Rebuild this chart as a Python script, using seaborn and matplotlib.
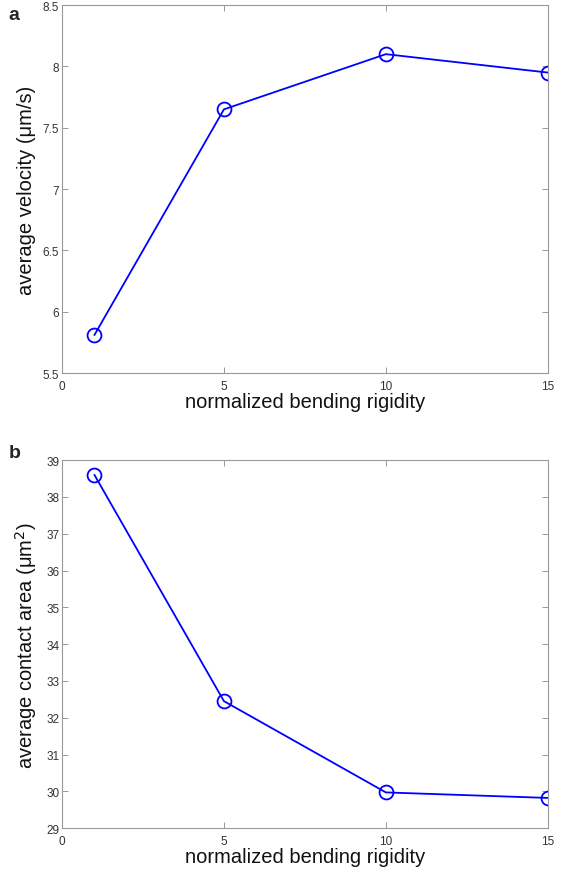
import matplotlib
matplotlib.use("Agg")
import matplotlib.pyplot as plt
import seaborn as sns

sns.set_style("white")
plt.rcParams['font.family'] = ['Liberation Sans', 'DejaVu Sans']

rigidity = [1, 5, 10, 15]
velocity = [5.81, 7.65, 8.10, 7.95]
contact_area = [38.6, 32.45, 29.97, 29.82]

fig = plt.figure(figsize=(5.61, 8.70), dpi=100)
ax_a = fig.add_axes([0.1105, 0.570, 0.866, 0.423])
ax_b = fig.add_axes([0.1105, 0.047, 0.866, 0.423])

panels = [
    (ax_a, velocity, 'average velocity (\u03bcm/s)', (5.5, 8.5), [5.5, 6, 6.5, 7, 7.5, 8, 8.5],
     ['5.5', '6', '6.5', '7', '7.5', '8', '8.5'], 'a', 0.975),
    (ax_b, contact_area, 'average contact area (\u03bcm$^2$)', (29, 39), list(range(29, 40)),
     [str(v) for v in range(29, 40)], 'b', 1.022),
]

for ax, vals, ylabel, ylim, yticks, yticklabels, letter, ly in panels:
    sns.lineplot(x=rigidity, y=vals, ax=ax, color='#0000ff', lw=1.3,
                 marker='o', markersize=10, markerfacecolor='none',
                 markeredgecolor='#0000ff', markeredgewidth=1.3)
    ax.set_xlim(0, 15)
    ax.set_ylim(*ylim)
    ax.set_xticks([0, 5, 10, 15])
    ax.set_xticklabels(['0', '5', '10', '15'])
    ax.set_yticks(yticks)
    ax.set_yticklabels(yticklabels)
    ax.tick_params(direction='in', length=4, width=0.6, color='#888888',
                   labelsize=8.5, labelcolor='#333333', top=True, right=True,
                   left=True, bottom=True, pad=2)
    ax.tick_params(axis='x', pad=5)
    for s in ax.spines.values():
        s.set_color('#999999')
        s.set_linewidth(0.8)
    ax.set_xlabel('normalized bending rigidity', fontsize=14.5, labelpad=0, color='#111111')
    ax.set_ylabel(ylabel, fontsize=14.5, labelpad=5, color='#111111')
    ax.text(-0.11, ly, letter, transform=ax.transAxes, fontsize=14,
            fontweight='bold', ha='left', va='center')

fig.savefig('out.png', dpi=100)
